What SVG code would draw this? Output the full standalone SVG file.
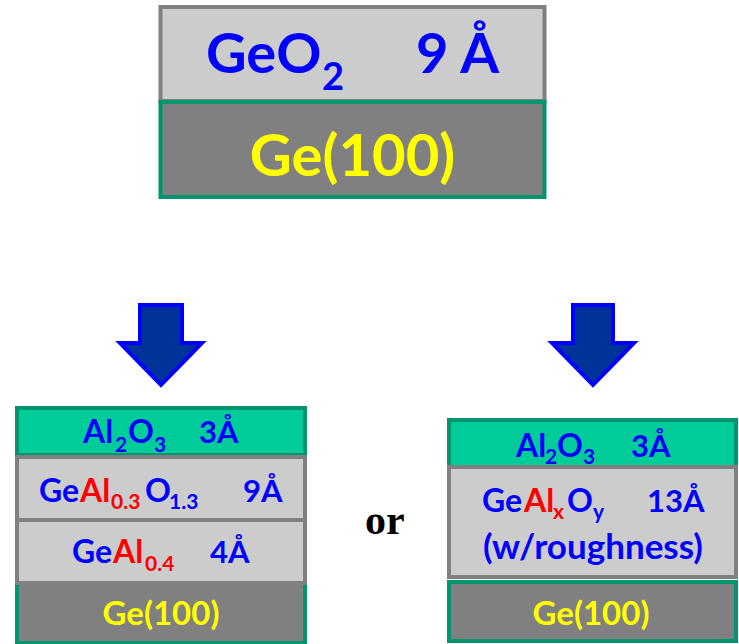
<svg xmlns="http://www.w3.org/2000/svg" width="739" height="644" viewBox="0 0 739 644">
<style>
.t{font-family:Lato,"Open Sans","Liberation Sans",sans-serif;font-weight:bold}
.b{fill:#0000ff}
.r{fill:#ff0000}
.y{fill:#ffff00}
.light{fill:#cccccc;stroke:#808080;stroke-width:4}
.sub{fill:#808080;stroke:#009470;stroke-width:4}
.al{fill:#00cc99;stroke:#009470;stroke-width:4}
.arrow{fill:#003399;stroke:#0000ff;stroke-width:4}
.s{font-size:21px}
</style>
<rect width="739" height="644" fill="#ffffff"/>
<g id="top-geo2">
<rect class="light" x="160.5" y="7" width="384" height="94"/>
<text class="t b" font-size="56" x="206" y="73">GeO<tspan x="322" y="90" font-size="38">2</tspan><tspan x="416" y="73">9 Å</tspan></text>
</g>
<g id="top-ge">
<rect class="sub" x="160.5" y="102" width="384" height="95"/>
<text class="t y" font-size="58" x="352.5" y="176" text-anchor="middle">Ge(100)</text>
</g>
<g id="connectors">
<polygon class="arrow" points="140,305 182,305 182,343 202,343 161,385 120,343 140,343"/>
<polygon class="arrow" points="573,305 613,305 613,343 634,343 593,385 552,343 573,343"/>
</g>
<g id="left-al2o3">
<rect class="al" x="17" y="408" width="288" height="47"/>
<text class="t b" font-size="32" x="83" y="443">Al<tspan class="s" x="115" y="452">2</tspan><tspan x="128" y="443">O</tspan><tspan class="s" x="154" y="452">3</tspan><tspan x="199" y="443" font-size="31">3Å</tspan></text>
</g>
<g id="left-ge">
<rect class="sub" x="17" y="583" width="288" height="60"/>
<text class="t y" font-size="33" x="161" y="625" text-anchor="middle">Ge(100)</text>
</g>
<g id="left-geal03o13">
<rect class="light" x="17" y="457" width="288" height="63"/>
<text class="t b" font-size="32" x="39" y="502">Ge<tspan class="r" x="80" y="502">Al</tspan><tspan class="r s" x="111" y="509">0.3</tspan><tspan x="145" y="502">O</tspan><tspan class="s" x="169" y="509">1.3</tspan><tspan x="243" y="502" font-size="31">9Å</tspan></text>
</g>
<g id="left-geal04">
<rect class="light" x="17" y="520" width="288" height="63"/>
<text class="t b" font-size="32" x="72" y="563">Ge<tspan class="r" x="113" y="563">Al</tspan><tspan class="r s" x="145" y="571">0.4</tspan><tspan x="210" y="563" font-size="31">4Å</tspan></text>
</g>
<g id="or-label">
<text x="365" y="534" font-family="'Liberation Serif',serif" font-weight="bold" font-size="42" fill="#000000">or</text>
</g>
<g id="right-al2o3">
<rect class="al" x="449" y="420" width="287" height="47"/>
<text class="t b" font-size="32" x="516" y="457">Al<tspan class="s" x="545" y="464">2</tspan><tspan x="557" y="457">O</tspan><tspan class="s" x="583" y="464">3</tspan><tspan x="631" y="457" font-size="31">3Å</tspan></text>
</g>
<g id="right-gealxoy">
<rect class="light" x="449" y="467" width="287" height="110"/>
<text class="t b" font-size="32" x="482" y="512">Ge<tspan class="r" x="524" y="512">Al</tspan><tspan class="r s" x="553" y="519">x</tspan><tspan x="567" y="512">O</tspan><tspan class="s" x="593" y="519">y</tspan><tspan x="647" y="512" font-size="31">13Å</tspan></text>
<text class="t b" font-size="35" x="593" y="559" text-anchor="middle">(w/roughness)</text>
</g>
<g id="right-ge">
<rect class="sub" x="449" y="582" width="287" height="59"/>
<text class="t y" font-size="33" x="591" y="625" text-anchor="middle">Ge(100)</text>
</g>
</svg>
